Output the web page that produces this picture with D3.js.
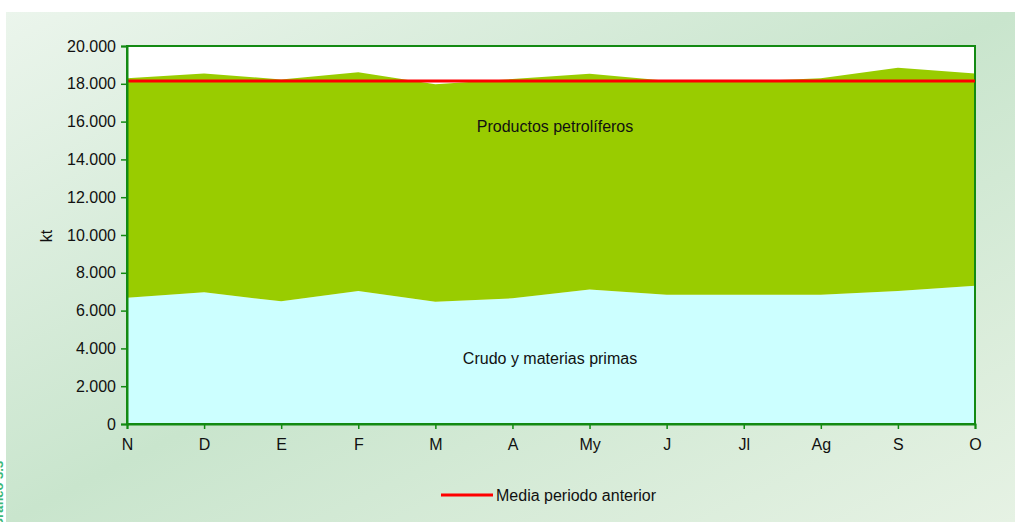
<!DOCTYPE html>
<html><head><meta charset="utf-8">
<script src="https://cdn.jsdelivr.net/npm/d3@7/dist/d3.min.js"></script>
<style>
html,body{margin:0;padding:0;background:#fff;}
svg{display:block;font-family:"Liberation Sans",Arial,sans-serif;}
</style></head>
<body><svg id="c" width="1015" height="522"></svg>
<script>
const months = ["N","D","E","F","M","A","My","J","Jl","Ag","S","O"];
const crudo = [6680, 6970, 6490, 7040, 6470, 6650, 7110, 6840, 6840, 6840, 7040, 7320];
const total = [18290, 18550, 18230, 18610, 17980, 18250, 18530, 18160, 18130, 18290, 18850, 18540];
const productos = total.map((t,i)=>t-crudo[i]);
const mediaAnterior = 18150;
const yTicks = [0,2000,4000,6000,8000,10000,12000,14000,16000,18000,20000];

const svg = d3.select("#c");
const defs = svg.append("defs");
const g1 = defs.append("linearGradient").attr("id","bg").attr("x1","0%").attr("y1","0%").attr("x2","100%").attr("y2","100%");
g1.append("stop").attr("offset","0%").attr("stop-color","#ebf5ec");
g1.append("stop").attr("offset","50%").attr("stop-color","#c9e5cd");
g1.append("stop").attr("offset","100%").attr("stop-color","#e6f2e4");
svg.append("rect").attr("x",6).attr("y",12).attr("width",1009).attr("height",510).attr("fill","url(#bg)");

// clipped side caption
svg.append("text").attr("transform","translate(3,528) rotate(-90)").attr("fill","#3cb878")
  .attr("font-size",13).attr("font-weight","bold").text("Gráfico 3.3");

const L=127,R=975,T=46,B=424;
const x = d3.scalePoint().domain(months).range([L,R]);
const y = d3.scaleLinear().domain([0,20000]).range([B,T]);

svg.append("rect").attr("x",L).attr("y",T).attr("width",R-L).attr("height",B-T).attr("fill","#fff");

const stackData = months.map((m,i)=>({m, crudo:crudo[i], productos:productos[i]}));
const series = d3.stack().keys(["crudo","productos"])(stackData);
const colors = {crudo:"#ccffff", productos:"#99cc00"};
const area = d3.area().x(d=>x(d.data.m)).y0(d=>y(d[0])).y1(d=>y(d[1]));
svg.append("g").selectAll("path").data(series).join("path")
  .attr("d",area).attr("fill",d=>colors[d.key]);

// frame
svg.append("rect").attr("x",L).attr("y",T).attr("width",R-L).attr("height",B-T)
  .attr("fill","none").attr("stroke","#138a13").attr("stroke-width",2);

// red line
const line = d3.line().x(d=>x(d.m)).y(d=>y(d.v));
svg.append("path").datum(months.map(m=>({m,v:mediaAnterior})))
  .attr("d",line).attr("fill","none").attr("stroke","#ff0000").attr("stroke-width",3);

// axes
const yAxis = svg.append("g").attr("transform",`translate(${L},0)`)
  .call(d3.axisLeft(y).tickValues(yTicks).tickSize(6).tickPadding(5)
    .tickFormat(d=>d3.format(",")(d).replace(/,/g,".")));
const xAxis = svg.append("g").attr("transform",`translate(0,${B})`)
  .call(d3.axisBottom(x).tickSize(5).tickPadding(10));
[yAxis,xAxis].forEach(a=>{
  a.select(".domain").attr("stroke","#138a13").attr("stroke-width",2);
  a.selectAll(".tick line").attr("stroke","#138a13").attr("stroke-width",1.5);
  a.selectAll("text").attr("font-size",16).attr("fill","#111").attr("font-family","Liberation Sans, Arial, sans-serif");
});

svg.append("text").attr("transform","translate(52,236) rotate(-90)").attr("text-anchor","middle")
  .attr("font-size",16).attr("fill","#111").text("kt");

svg.append("text").attr("x",555).attr("y",132).attr("text-anchor","middle").attr("font-size",16).attr("fill","#111").text("Productos petrolíferos");
svg.append("text").attr("x",550).attr("y",364).attr("text-anchor","middle").attr("font-size",16).attr("fill","#111").text("Crudo y materias primas");

// legend
svg.append("line").attr("x1",441).attr("x2",493).attr("y1",495).attr("y2",495).attr("stroke","#ff0000").attr("stroke-width",3);
svg.append("text").attr("x",496).attr("y",501).attr("font-size",16).attr("fill","#111").text("Media periodo anterior");
</script></body></html>
